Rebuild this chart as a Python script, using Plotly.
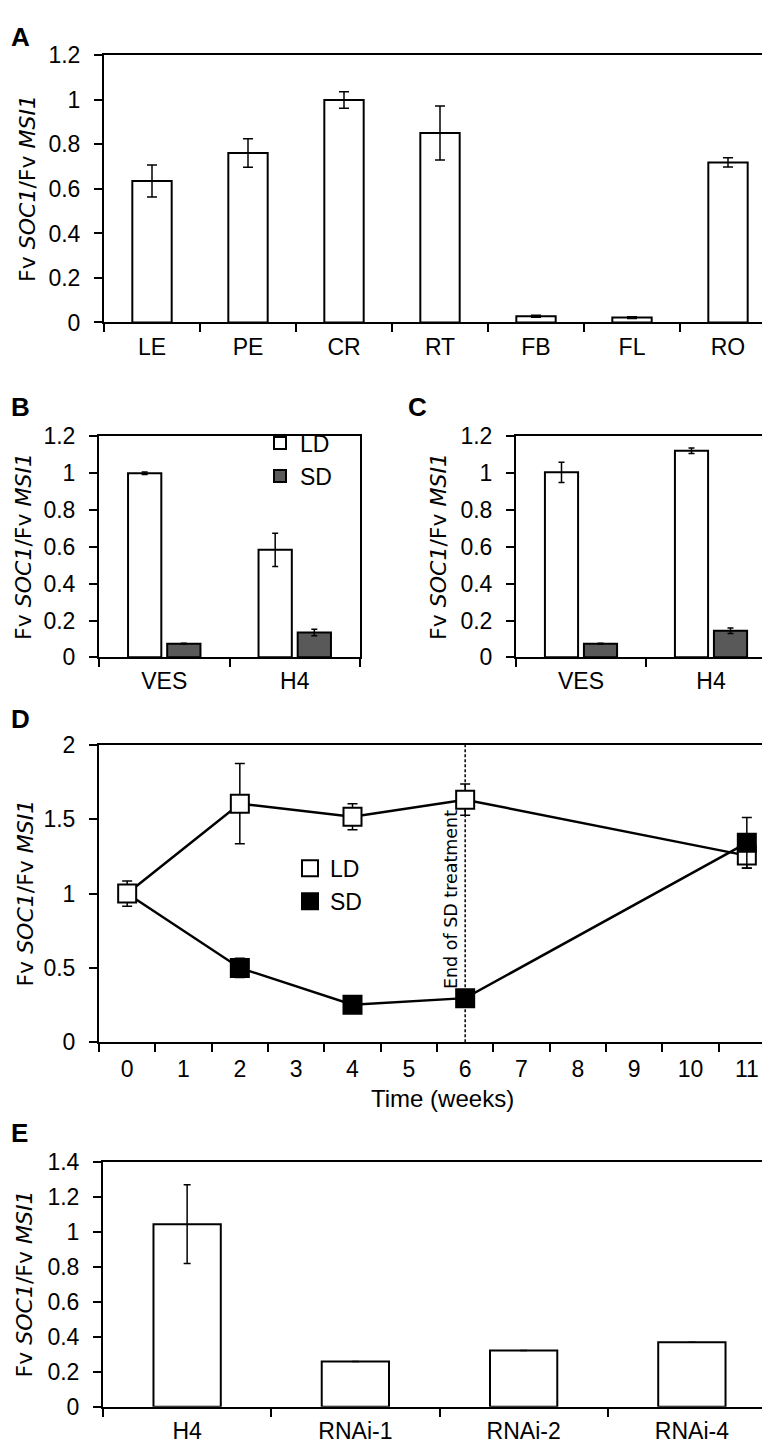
import plotly.graph_objects as go

W, H = 770, 1448
FONT = "Liberation Sans, Arial, Helvetica, sans-serif"
TITLE_FONT = "DejaVu Sans, Verdana, sans-serif"
Y_TITLE = "Fv <i>SOC1</i>/Fv <i>MSI1</i>"
SD_GREY = "#595959"

# --- A: tissues ---
TISSUES = ["LE", "PE", "CR", "RT", "FB", "FL", "RO"]
TISSUE_EXPR = [0.636, 0.761, 1.0, 0.851, 0.028, 0.022, 0.719]
TISSUE_ERR = [0.072, 0.064, 0.037, 0.121, 0.005, 0.004, 0.021]

# --- B / C: LD vs SD ---
GENOTYPES = ["VES", "H4"]
B_LD = [1.0, 0.584]
B_LD_ERR = [0.007, 0.09]
B_SD = [0.074, 0.135]
B_SD_ERR = [0.002, 0.018]
C_LD = [1.005, 1.122]
C_LD_ERR = [0.055, 0.015]
C_SD = [0.074, 0.145]
C_SD_ERR = [0.002, 0.015]

# --- D: time course ---
WEEK_TICKS = ["0", "1", "2", "3", "4", "5", "6", "7", "8", "9", "10", "11"]
WEEKS = ["0", "2", "4", "6", "11"]
LD_TIME = [1.0, 1.604, 1.516, 1.631, 1.255]
LD_TIME_ERR = [0.085, 0.27, 0.088, 0.105, 0.085]
SD_TIME = [1.0, 0.5, 0.253, 0.297, 1.341]
SD_TIME_ERR = [0.0, 0.065, 0.03, 0.04, 0.17]
END_SD_WEEK = "6"

# --- E: RNAi lines ---
LINES = ["H4", "RNAi-1", "RNAi-2", "RNAi-4"]
LINE_EXPR = [1.045, 0.258, 0.322, 0.369]
LINE_ERR = [0.225, None, None, None]


def xdom(left, right):
    return [left / W, right / W]


def ydom(top, bottom):
    return [1 - bottom / H, 1 - top / H]


def err(values, width=5):
    return dict(type="data", array=values, color="black", thickness=1.5, width=width)


def label(x, y, text, size, family=FONT, angle=0, **kw):
    fig.add_annotation(x=x, y=y, text=text, textangle=angle, showarrow=False,
                       xanchor="center", yanchor="middle",
                       font=dict(family=family, size=size, color="black"), **kw)


axis_base = dict(
    showline=True, linecolor="black", linewidth=2, mirror=True,
    ticks="outside", ticklen=8, tickwidth=2, tickcolor="black",
    showgrid=False, zeroline=False,
    tickfont=dict(family=FONT, size=23, color="black"),
)
y_base = dict(axis_base, ticklabelstandoff=9)
cat_x = dict(axis_base, type="category", tickson="boundaries")

fig = go.Figure()

# A
fig.add_trace(go.Bar(
    x=TISSUES, y=TISSUE_EXPR, error_y=err(TISSUE_ERR), width=0.41,
    marker=dict(color="white", line=dict(color="black", width=2)),
    showlegend=False, xaxis="x", yaxis="y",
))

# B
fig.add_trace(go.Bar(
    x=GENOTYPES, y=B_LD, error_y=err(B_LD_ERR, 3), name="LD",
    marker=dict(color="white", line=dict(color="black", width=2)),
    xaxis="x2", yaxis="y2", legend="legend",
))
fig.add_trace(go.Bar(
    x=GENOTYPES, y=B_SD, error_y=err(B_SD_ERR, 3), name="SD",
    marker=dict(color=SD_GREY, line=dict(color="black", width=2)),
    xaxis="x2", yaxis="y2", legend="legend",
))

# C
fig.add_trace(go.Bar(
    x=GENOTYPES, y=C_LD, error_y=err(C_LD_ERR, 3), name="LD", showlegend=False,
    marker=dict(color="white", line=dict(color="black", width=2)),
    xaxis="x3", yaxis="y3",
))
fig.add_trace(go.Bar(
    x=GENOTYPES, y=C_SD, error_y=err(C_SD_ERR, 3), name="SD", showlegend=False,
    marker=dict(color=SD_GREY, line=dict(color="black", width=2)),
    xaxis="x3", yaxis="y3",
))

# D: lines underneath, markers on top
fig.add_trace(go.Scatter(
    x=WEEKS, y=SD_TIME, mode="lines", line=dict(color="black", width=2.5),
    showlegend=False, xaxis="x4", yaxis="y4",
))
fig.add_trace(go.Scatter(
    x=WEEKS, y=LD_TIME, mode="lines", line=dict(color="black", width=2.5),
    showlegend=False, xaxis="x4", yaxis="y4",
))
fig.add_trace(go.Scatter(
    x=WEEKS, y=LD_TIME, mode="markers", name="LD", error_y=err(LD_TIME_ERR),
    marker=dict(symbol="square", size=18, color="white", line=dict(color="black", width=2)),
    xaxis="x4", yaxis="y4", legend="legend2",
))
fig.add_trace(go.Scatter(
    x=WEEKS[1:], y=SD_TIME[1:], mode="markers", name="SD", error_y=err(SD_TIME_ERR[1:]),
    marker=dict(symbol="square", size=18, color="black", line=dict(color="black", width=2)),
    xaxis="x4", yaxis="y4", legend="legend2",
))

# E
fig.add_trace(go.Bar(
    x=LINES, y=LINE_EXPR, error_y=err(LINE_ERR, 3.5), width=0.40,
    marker=dict(color="white", line=dict(color="black", width=2)),
    showlegend=False, xaxis="x5", yaxis="y5",
))

fig.update_layout(
    width=W, height=H,
    margin=dict(l=0, r=0, t=0, b=0),
    paper_bgcolor="white", plot_bgcolor="white",
    barmode="group", bargap=0.4, bargroupgap=0.15,
    xaxis=dict(cat_x, domain=xdom(96, 768), anchor="y", ticklabelstandoff=3),
    yaxis=dict(y_base, domain=ydom(35, 307), range=[0, 1.2], dtick=0.2, anchor="x"),
    xaxis2=dict(cat_x, domain=xdom(91, 352), anchor="y2", ticklabelstandoff=2),
    yaxis2=dict(y_base, domain=ydom(423, 648), range=[0, 1.2], dtick=0.2, anchor="x2"),
    xaxis3=dict(cat_x, domain=xdom(508, 768), anchor="y3", ticklabelstandoff=2),
    yaxis3=dict(y_base, domain=ydom(423, 648), range=[0, 1.2], dtick=0.2, anchor="x3"),
    xaxis4=dict(cat_x, domain=xdom(91, 767), anchor="y4", ticklabelstandoff=5,
                categoryorder="array", categoryarray=WEEK_TICKS,
                tickvals=WEEK_TICKS, range=[-0.5, len(WEEK_TICKS) - 0.5]),
    yaxis4=dict(y_base, domain=ydom(737, 1040), range=[0, 2], dtick=0.5, anchor="x4"),
    xaxis5=dict(cat_x, domain=xdom(95, 768), anchor="y5", ticklabelstandoff=3),
    yaxis5=dict(y_base, domain=ydom(1162, 1411), range=[0, 1.4], dtick=0.2, anchor="x5"),
    legend=dict(x=252 / W, y=1 - 408 / H, xanchor="left", yanchor="top",
                bgcolor="rgba(0,0,0,0)", tracegroupgap=0,
                font=dict(family=FONT, size=23, color="black")),
    legend2=dict(x=282 / W, y=1 - 841 / H, xanchor="left", yanchor="top",
                 bgcolor="rgba(0,0,0,0)", tracegroupgap=0,
                 font=dict(family=FONT, size=23, color="black")),
)

# end of SD treatment marker
end_idx = WEEK_TICKS.index(END_SD_WEEK)
fig.add_shape(type="line", xref="x4", yref="y4 domain", x0=end_idx, x1=end_idx, y0=0, y1=1,
              line=dict(color="black", width=1.5, dash="3px,2px"), layer="below")
label(end_idx, 0.957, "End of SD treatment", 17.5, family=TITLE_FONT, angle=-90,
      xref="x4", yref="y4", xshift=-14)

# x title for D
label(434 / W, 1 - 1097 / H, "Time (weeks)", 24, xref="paper", yref="paper")

# y titles
for xc, top, bottom in [(20, 35, 307), (16, 423, 648), (431, 423, 648),
                        (18, 737, 1040), (16, 1162, 1411)]:
    label(xc / W, 1 - (top + bottom) / 2 / H, Y_TITLE, 22, family=TITLE_FONT, angle=-90,
          xref="paper", yref="paper")

# panel letters
for letter, xc, yc in [("A", 13, 16), ("B", 13, 393), ("C", 409, 393),
                       ("D", 12, 711), ("E", 11, 1132)]:
    label(xc / W, 1 - yc / H, f"<b>{letter}</b>", 26, xref="paper", yref="paper")

fig.write_html("out.html")
